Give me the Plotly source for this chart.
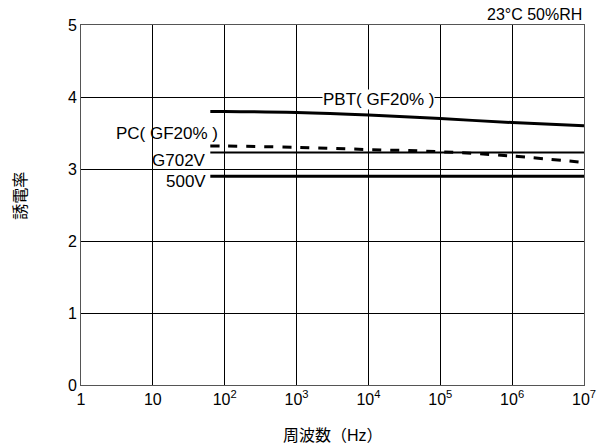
import plotly.graph_objects as go

freq = [63, 1e2, 1e3, 1e4, 1e5, 1e6, 1e7]
pbt = [3.80, 3.80, 3.785, 3.75, 3.70, 3.645, 3.60]
pc = [3.32, 3.32, 3.30, 3.27, 3.24, 3.18, 3.09]
g702v = [3.23, 3.23, 3.23, 3.23, 3.23, 3.23, 3.23]
v500 = [2.90, 2.90, 2.90, 2.90, 2.90, 2.90, 2.90]

xtick_vals = [1, 10, 1e2, 1e3, 1e4, 1e5, 1e6, 1e7]
xtick_text = ["1", "10", "10<sup>2</sup>", "10<sup>3</sup>", "10<sup>4</sup>",
              "10<sup>5</sup>", "10<sup>6</sup>", "10<sup>7</sup>"]
ytick_vals = [0, 1, 2, 3, 4, 5]

FONT = "Liberation Sans, Arial, Noto Sans CJK JP, sans-serif"

fig = go.Figure()
fig.add_trace(go.Scatter(x=freq, y=pbt, mode="lines",
                         line=dict(color="black", width=3, shape="spline", smoothing=1)))
fig.add_trace(go.Scatter(x=freq, y=pc, mode="lines",
                         line=dict(color="black", width=3, dash="dash", shape="spline", smoothing=1)))
fig.add_trace(go.Scatter(x=freq, y=g702v, mode="lines", line=dict(color="black", width=2)))
fig.add_trace(go.Scatter(x=freq, y=v500, mode="lines", line=dict(color="black", width=3)))

fig.add_annotation(x=4.14, y=3.96, xref="x", yref="y", text="PBT( GF20% )", showarrow=False,
                   bgcolor="white", font=dict(size=17), xanchor="center", yanchor="middle", borderpad=0)
fig.add_annotation(x=1.92, y=3.49, xref="x", yref="y", text="PC( GF20% )", showarrow=False,
                   font=dict(size=17), xanchor="right", yanchor="middle", borderpad=0)
fig.add_annotation(x=1.76, y=3.12, xref="x", yref="y", text="G702V", showarrow=False,
                   font=dict(size=17), xanchor="right", yanchor="middle", borderpad=0)
fig.add_annotation(x=1.76, y=2.82, xref="x", yref="y", text="500V", showarrow=False,
                   font=dict(size=17), xanchor="right", yanchor="middle", borderpad=0)
fig.add_annotation(x=1, y=1, xref="paper", yref="paper", text="23°C 50%RH", showarrow=False,
                   font=dict(size=16), xanchor="right", yanchor="bottom", yshift=0)
fig.add_annotation(x=-0.122, y=0.525, xref="paper", yref="paper", text="誘電率", showarrow=False,
                   font=dict(size=16), textangle=-90, xanchor="center", yanchor="middle")
fig.add_annotation(x=0.5, y=0, xref="paper", yref="paper", text="周波数（Hz）", showarrow=False,
                   font=dict(size=16), xanchor="center", yanchor="middle", yshift=-50)

fig.update_layout(
    width=598, height=448,
    margin=dict(l=81, r=14, t=25, b=63),
    paper_bgcolor="white", plot_bgcolor="white",
    showlegend=False,
    font=dict(family=FONT, size=16, color="black"),
)
fig.update_xaxes(type="log", range=[0, 7], tickvals=xtick_vals, ticktext=xtick_text,
                 showgrid=True, gridcolor="black", gridwidth=1,
                 showline=True, linecolor="#555", linewidth=1, mirror=True,
                 ticks="", zeroline=False, automargin=False, tickfont=dict(size=16))
fig.update_yaxes(range=[0, 5], tickvals=ytick_vals,
                 showgrid=True, gridcolor="black", gridwidth=1,
                 showline=True, linecolor="#555", linewidth=1, mirror=True,
                 ticks="", zeroline=False, automargin=False, tickfont=dict(size=16))

fig.write_html("out.html", config={"displayModeBar": False},
               post_script="document.body.style.margin='0';document.body.style.overflow='hidden';")
